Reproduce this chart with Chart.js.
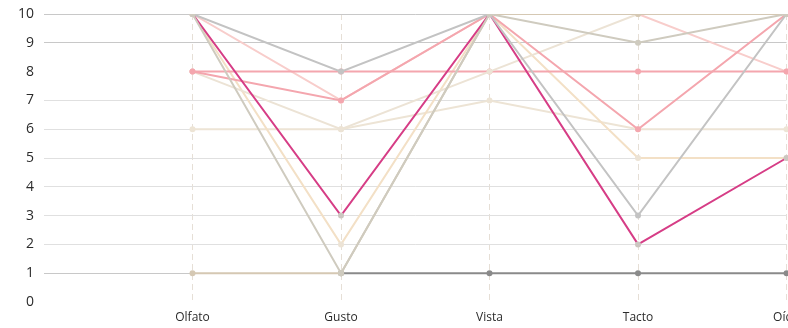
<!DOCTYPE html>
<html>
<head>
<meta charset="utf-8">
<script src="https://cdn.jsdelivr.net/npm/chart.js@4.4.1/dist/chart.umd.min.js"></script>
<style>
  html, body { margin: 0; padding: 0; background: #fff; overflow: hidden; }
  #wrap { width: 808px; height: 328px; position: relative; }
</style>
</head>
<body>
<div id="wrap"><canvas id="c"></canvas></div>
<script>
const categories = ['', 'Olfato', 'Gusto', 'Vista', 'Tacto', 'Oído'];
const yTicks = [0, 1, 2, 3, 4, 5, 6, 7, 8, 9, 10];

// each series: leading null for the empty first category
const serieGrisBeige = [null, 10, 1, 10, 9, 10];
const serieGris      = [null, 10, 8, 10, 3, 10];
const serieMagenta   = [null, 10, 3, 10, 2, 5];
const serieTaupe     = [null, 1, 1, 10, 10, 10];
const serieRosa      = [null, 8, 7, 10, 6, 10];
const serieBeige1    = [null, 8, 6, 8, 10, 10];
const serieRosaPlana = [null, 8, 8, 8, 8, 8];
const serieRosaClara = [null, 10, 7, 10, 10, 8];
const serieMelocoton = [null, 10, 2, 10, 5, 5];
const serieBeige2    = [null, 6, 6, 7, 6, 6];
const serieGrisOscuro= [null, null, 1, 1, 1, 1];

const series = [
  { data: serieGrisBeige, color: '#cfcbbf', point: '#cfcbbf' },
  { data: serieGris,      color: '#c3c3c3', point: '#c3c3c3' },
  { data: serieMagenta,   color: '#d63d86', point: '#cbc6c0' },
  { data: serieTaupe,     color: '#d5c8b3', point: '#d5c8b3' },
  { data: serieRosa,      color: '#f4a6ae', point: '#f4a6ae' },
  { data: serieBeige1,    color: '#ece3d5', point: '#ece3d5' },
  { data: serieRosaPlana, color: '#f4a6ae', point: '#f4a6ae' },
  { data: serieRosaClara, color: '#f8cdcb', point: '#f8cdcb' },
  { data: serieMelocoton, color: '#f3e0c6', point: '#ece3d5' },
  { data: serieBeige2,    color: '#ede4d5', point: '#ede4d5' },
  { data: serieGrisOscuro,color: '#8a8a8a', point: '#8a8a8a' }
];

const FONT = '"Open Sans", sans-serif';

new Chart(document.getElementById('c'), {
  type: 'line',
  data: {
    labels: categories,
    datasets: series.map(s => ({
      data: s.data,
      borderColor: s.color,
      backgroundColor: s.point,
      pointBackgroundColor: s.point,
      pointBorderWidth: 0,
      pointRadius: 3,
      borderWidth: 2,
      tension: 0,
      spanGaps: false,
      fill: false
    }))
  },
  options: {
    responsive: true,
    maintainAspectRatio: false,
    animation: false,
    events: [],
    layout: { padding: 0 },
    plugins: { legend: { display: false }, tooltip: { enabled: false } },
    scales: {
      x: {
        offset: false,
        afterFit: axis => { axis.height = 26; },
        grid: {
          color: ctx => ctx.index === 0 ? 'rgba(0,0,0,0)' : '#e6dfd6',
          lineWidth: 1,
          drawTicks: false
        },
        border: { display: false, dash: [6, 4] },
        ticks: {
          color: '#2b2b2b',
          font: { family: FONT, size: 12 },
          padding: 8,
          maxRotation: 0,
          autoSkip: false
        }
      },
      y: {
        min: 0,
        max: 10,
        afterFit: axis => { axis.width = 44; axis.paddingTop = 14; axis.paddingBottom = 0; },
        afterBuildTicks: axis => { axis.ticks = yTicks.map(v => ({ value: v })); },
        grid: {
          color: ctx => {
            const v = ctx.tick.value;
            if (v === 0 || v === 8) return 'rgba(0,0,0,0)';
            if (v === 10 || v === 9 || v === 1) return '#c8c8c8';
            return '#e0e0e0';
          },
          lineWidth: 1,
          drawTicks: false
        },
        border: { display: false },
        ticks: {
          color: '#2b2b2b',
          font: { family: FONT, size: 14 },
          padding: 10
        }
      }
    }
  }
});
</script>
</body>
</html>
